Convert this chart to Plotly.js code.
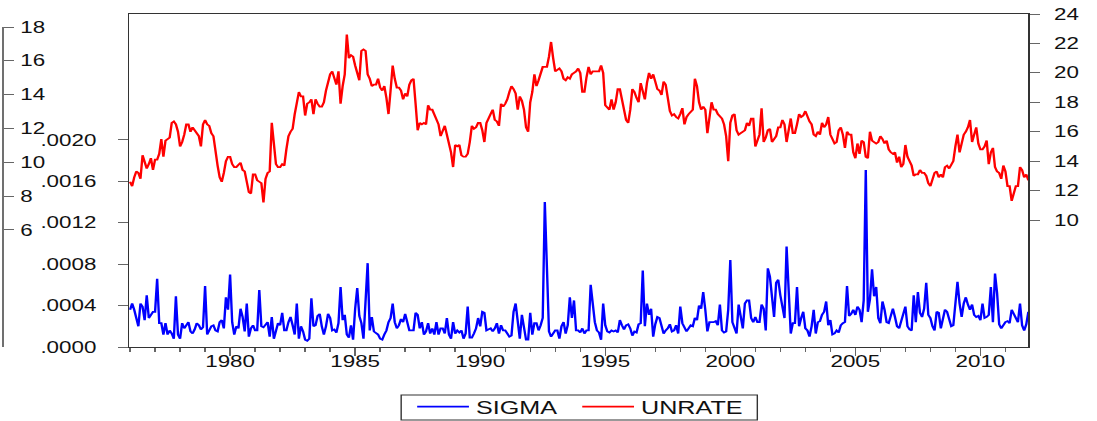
<!DOCTYPE html>
<html>
<head>
<meta charset="utf-8">
<script src="https://cdn.plot.ly/plotly-3.0.1.min.js"></script>
<style>
html,body{margin:0;padding:0;background:#fff;overflow:hidden;}
#wrap{width:784px;height:421px;transform:scaleX(1.399235);transform-origin:0 0;}
#chart{width:784px;height:421px;}
</style>
</head>
<body>
<div id="wrap"><div id="chart"></div></div>
<script>
// ---- data (monthly, 1976M01 - 2011M12) ----
const START_YEAR = 1976;
const YEAR_TICKS = [1980, 1985, 1990, 1995, 2000, 2005, 2010];
const SIGMA_TICKS = [0, 0.0004, 0.0008, 0.0012, 0.0016, 0.0020];
const SIGMA_LABELS = ['.0000', '.0004', '.0008', '.0012', '.0016', '.0020'];
const UNRATE_TICKS = [10, 12, 14, 16, 18, 20, 22, 24];
const LEFT_PANEL_TICKS = [6, 8, 10, 12, 14, 16, 18];

const UNRATE = [
  12.6,12.3,12.9,13.3,13.2,12.8,14.4,14.0,13.5,13.8,14.2,13.4,
  14.1,14.1,14.5,15.5,14.3,15.4,15.5,15.6,16.6,16.7,16.5,16.0,
  15.0,15.3,15.8,16.5,16.5,16.0,16.3,16.1,15.9,15.7,15.0,16.5,
  16.8,16.5,16.4,15.9,15.7,14.5,13.7,12.9,12.6,13.2,14.0,14.3,
  14.3,13.8,13.6,13.6,13.8,13.9,13.4,13.3,12.6,11.9,11.8,13.1,
  13.1,12.7,12.6,12.5,11.2,12.8,13.2,13.3,16.6,15.4,13.8,13.6,
  13.6,13.8,13.7,14.8,15.7,16.0,16.2,17.2,17.9,18.7,18.4,18.4,
  17.1,17.9,18.0,18.2,17.2,18.2,17.9,17.7,17.7,18.0,18.8,19.3,
  19.9,20.1,19.6,19.2,20.1,17.9,19.1,19.9,22.6,21.0,21.2,21.1,
  20.5,20.0,19.5,21.5,21.6,21.5,19.9,19.6,19.1,19.2,19.2,19.6,
  19.0,18.8,19.1,18.3,17.2,18.8,20.5,19.6,19.0,19.0,18.8,18.2,
  18.6,18.4,19.2,19.5,19.6,17.9,16.1,16.6,16.5,16.6,16.5,17.8,
  17.5,17.5,17.2,16.8,16.5,15.7,16.0,16.4,15.8,15.3,14.6,13.6,
  15.1,15.0,15.1,14.4,14.3,14.3,14.5,15.3,16.4,16.2,16.3,16.6,
  16.6,16.1,15.3,16.6,17.0,17.2,17.5,16.8,16.7,16.4,17.9,17.7,
  17.9,18.2,18.7,19.1,18.9,18.6,17.5,18.4,18.1,17.5,16.3,16.0,
  18.0,18.7,19.9,19.1,19.5,20.1,20.4,20.4,20.4,21.1,22.1,21.0,
  20.1,20.2,20.3,20.1,19.6,19.5,19.7,19.6,19.9,20.0,20.1,20.3,
  20.0,18.7,18.7,19.7,20.4,19.9,20.1,20.1,20.1,20.1,20.5,20.0,
  17.8,17.6,17.5,18.2,17.5,18.0,18.9,18.9,18.2,17.4,16.8,16.6,
  17.5,18.9,18.7,18.3,18.0,19.3,18.8,18.2,19.3,20.0,19.6,19.9,
  19.4,18.9,18.8,18.5,19.4,19.2,18.3,17.4,17.1,17.2,17.0,16.9,
  17.2,17.6,16.5,17.0,17.2,17.4,17.5,19.6,19.1,18.0,17.5,17.7,
  17.5,15.9,16.9,18.0,17.5,17.5,17.2,17.0,16.9,16.5,15.7,14.0,
  16.6,17.1,17.2,16.1,15.8,15.9,16.0,16.1,16.6,16.4,16.9,16.9,
  15.0,15.5,15.8,17.6,15.3,15.6,16.1,16.2,15.3,15.5,15.7,16.3,
  16.3,16.8,16.5,15.3,16.1,16.9,15.9,15.9,16.5,17.2,17.0,17.1,
  17.4,17.0,16.7,16.5,15.8,15.7,16.0,15.8,16.6,16.3,16.5,17.0,
  15.8,15.5,15.2,15.3,16.1,16.3,15.8,14.9,16.0,15.8,15.8,14.6,
  14.2,15.2,14.5,15.4,15.3,14.3,14.2,16.0,15.4,15.3,15.2,15.3,
  15.7,15.5,15.2,15.4,14.8,14.6,14.5,14.6,13.9,14.3,13.6,13.8,
  15.1,14.3,13.9,13.7,13.0,13.1,13.1,13.4,13.2,13.2,13.0,12.5,
  12.3,12.8,13.2,13.3,12.9,13.1,12.9,13.6,13.7,13.5,13.7,14.0,
  15.0,15.8,14.6,15.3,15.8,16.0,16.3,16.8,15.3,15.8,16.3,15.2,
  14.8,14.8,15.0,15.4,13.8,14.6,14.9,13.6,13.3,13.2,12.8,13.7,
  13.3,12.3,12.3,11.3,11.9,12.3,12.3,13.6,13.4,12.9,13.1,12.7
];

// SIGMA in units of 1e-4
const SIGMA_E4 = [
  3.6,4.2,3.6,2.8,2.0,4.2,3.9,2.6,5.0,2.8,3.2,3.4,
  3.4,6.6,2.3,2.3,1.2,2.3,1.2,1.6,1.3,0.8,4.9,1.2,
  0.8,2.3,1.8,2.1,2.4,1.5,1.3,1.7,2.3,2.1,1.7,1.9,
  5.9,1.2,1.7,2.0,2.1,1.6,1.5,2.4,2.6,1.8,4.8,3.6,
  7.0,2.4,1.2,2.0,1.8,3.7,2.9,1.5,4.2,1.0,1.8,2.1,
  1.6,1.6,5.5,2.0,1.9,2.1,2.4,1.0,2.9,0.8,1.6,2.3,
  2.1,3.3,1.6,1.6,2.4,2.9,2.1,1.2,4.2,0.8,2.0,1.5,
  0.7,0.6,0.8,4.7,2.0,2.1,3.0,3.2,2.0,1.2,2.0,3.2,
  2.8,1.6,1.7,1.4,2.3,5.8,2.6,3.1,1.2,0.9,2.1,0.7,
  3.7,5.7,3.0,2.3,0.8,4.0,8.1,1.6,2.9,1.5,1.3,1.2,
  0.8,0.7,1.2,1.6,2.4,2.8,4.2,2.4,1.8,2.1,2.7,2.4,
  3.2,2.3,1.6,1.6,1.6,3.3,3.1,1.8,2.4,1.2,1.5,2.3,
  1.3,1.8,1.2,2.4,1.2,1.8,1.8,1.3,2.8,1.2,0.8,2.4,
  1.3,1.6,1.4,1.6,0.8,1.3,3.9,0.9,0.9,1.3,1.8,2.8,
  2.0,3.4,3.3,1.6,1.7,1.8,1.5,1.8,2.3,1.3,2.1,1.6,
  1.6,1.2,1.0,1.1,3.4,4.2,2.0,0.8,3.1,1.5,0.7,0.7,
  3.3,1.2,2.3,2.3,1.6,2.1,2.8,14.0,6.5,1.5,1.0,1.3,
  1.6,1.6,0.8,2.0,2.4,1.3,2.1,4.8,2.8,4.5,1.6,1.6,
  1.4,1.8,1.3,1.6,1.6,6.0,3.9,2.4,1.6,1.4,0.7,4.2,
  2.1,1.5,1.4,1.6,1.5,1.6,1.4,2.6,2.1,1.7,2.1,2.2,
  1.8,1.1,1.5,1.4,2.2,2.3,7.4,2.0,4.2,3.1,3.7,1.0,
  2.2,2.9,2.8,1.8,1.3,1.6,1.8,2.2,1.5,1.6,2.1,1.3,
  3.9,2.3,1.9,1.5,1.8,2.1,2.0,2.8,2.6,4.0,3.7,5.3,
  3.6,1.5,2.4,2.4,2.4,2.5,2.1,4.1,1.6,1.4,1.5,3.6,
  8.4,2.4,1.7,1.3,4.1,2.8,1.8,4.2,4.5,4.5,2.8,2.4,
  2.9,2.4,2.4,4.1,3.7,1.6,7.6,6.8,4.9,2.9,6.2,6.5,
  5.0,3.7,2.8,9.7,6.2,1.3,2.3,2.3,5.8,2.0,2.8,3.4,
  1.8,1.6,1.0,2.0,3.6,1.3,2.4,2.5,3.1,3.4,4.4,2.1,
  2.6,1.2,1.3,1.6,1.4,2.1,2.3,2.4,5.9,3.0,3.2,3.6,
  3.1,3.9,3.6,2.4,4.5,17.1,3.4,4.6,7.5,4.9,5.8,2.8,
  2.3,4.4,3.6,2.4,2.3,2.9,3.7,2.9,2.0,1.8,2.6,3.0,
  3.9,2.0,1.7,1.6,5.0,2.4,5.3,3.3,2.9,3.7,6.2,3.1,
  2.8,2.0,1.6,3.4,3.3,1.8,2.6,3.6,3.4,2.8,2.0,2.1,
  4.4,6.3,4.2,2.9,4.2,4.8,4.1,3.6,4.1,3.1,2.9,3.0,
  2.6,4.2,2.8,2.9,3.1,5.8,2.4,7.1,5.2,2.2,1.8,2.1,
  2.4,2.5,2.3,3.6,3.2,2.8,2.4,4.2,2.1,1.6,2.2,3.4
];
const SIGMA_UNIT = 1e-4;

// ---- build ----
const months = UNRATE.map((_, i) => START_YEAR + i / 12);
const sigma = SIGMA_E4.map(v => v * SIGMA_UNIT);

const S = 1097 / 784;          // horizontal stretch of the whole figure
const hx = v => v / S;          // reference horizontal px -> pre-stretch px
const PW = 1028;                // paper width in reference px
const PH = 333;                 // plot height
const py = y => (347 - y) / PH; // reference y px -> paper y

const FONT = '"Liberation Sans", Arial, sans-serif';
const tickFont = {family: FONT, size: 16, color: '#111'};
const legFont = {family: FONT, size: 18, color: '#111'};

const traces = [
  {x: months, y: sigma, type: 'scatter', mode: 'lines', name: 'SIGMA',
   line: {color: '#0000ff', width: 1.7}, yaxis: 'y', legend: 'legend'},
  {x: months, y: UNRATE, type: 'scatter', mode: 'lines', name: 'UNRATE',
   line: {color: '#ff0000', width: 1.7}, yaxis: 'y2', legend: 'legend2'},
  // invisible trace that activates the left-most (cropped neighbour) axis
  {x: [months[0]], y: [null], yaxis: 'y3', showlegend: false, hoverinfo: 'skip', mode: 'lines'}
];

const legendBase = {orientation: 'h', xanchor: 'left', yanchor: 'middle', y: py(407),
                    borderwidth: 0, bgcolor: 'rgba(0,0,0,0)', font: legFont, itemwidth: 37};

const layout = {
  width: 784, height: 421,
  margin: {l: 0, r: 69 / S, t: 14, b: 74, autoexpand: false},
  paper_bgcolor: '#ffffff', plot_bgcolor: '#ffffff',
  font: tickFont,
  showlegend: true,
  legend: Object.assign({}, legendBase, {x: (415 - 5) / PW}),
  legend2: Object.assign({}, legendBase, {x: (578 - 3) / PW}),
  xaxis: {domain: [129 / PW, 1], range: [1975.96, 2011.92],
          tickvals: YEAR_TICKS, ticktext: YEAR_TICKS.map(String),
          ticks: 'outside', ticklen: 8, tickcolor: '#666', tickwidth: 1,
          minor: {dtick: 1, tick0: START_YEAR, ticks: 'outside', ticklen: 4, tickcolor: '#666', showgrid: false},
          showline: true, linecolor: '#333', linewidth: 1, mirror: true,
          showgrid: false, zeroline: false, tickfont: tickFont, ticklabelstandoff: -8, automargin: false},
  yaxis: {range: [0, 0.003217], tickvals: SIGMA_TICKS, ticktext: SIGMA_LABELS,
          ticks: 'outside', ticklen: hx(10), tickcolor: '#666',
          showline: true, linecolor: '#333', linewidth: 1,
          showgrid: false, zeroline: false, tickfont: tickFont, ticklabelstandoff: 12, automargin: false},
  yaxis2: {overlaying: 'y', side: 'right', anchor: 'x', range: [1.37, 24],
           tickvals: UNRATE_TICKS, ticks: 'outside', ticklen: hx(10), tickcolor: '#666',
           showline: true, linecolor: '#333', linewidth: 1,
           showgrid: false, zeroline: false, tickfont: tickFont, ticklabelstandoff: 7, automargin: false},
  yaxis3: {overlaying: 'y', side: 'right', anchor: 'free', position: 3 / PW, range: [-0.92, 18.77],
           tickvals: LEFT_PANEL_TICKS, ticks: 'outside', ticklen: hx(10), tickcolor: '#666',
           showline: false, showgrid: false, zeroline: false, tickfont: tickFont,
           ticklabelstandoff: 1, automargin: false},
  shapes: [
    {type: 'line', xref: 'paper', yref: 'paper', x0: 3 / PW, x1: 3 / PW,
     y0: 0, y1: py(27), line: {color: '#333', width: 1}},
    {type: 'rect', xref: 'paper', yref: 'paper', x0: 401 / PW, x1: 757 / PW,
     y0: py(420), y1: py(395), line: {color: '#333', width: 1}, fillcolor: 'rgba(0,0,0,0)'}
  ]
};

Plotly.newPlot('chart', traces, layout, {staticPlot: true, displayModeBar: false});
</script>
</body>
</html>
